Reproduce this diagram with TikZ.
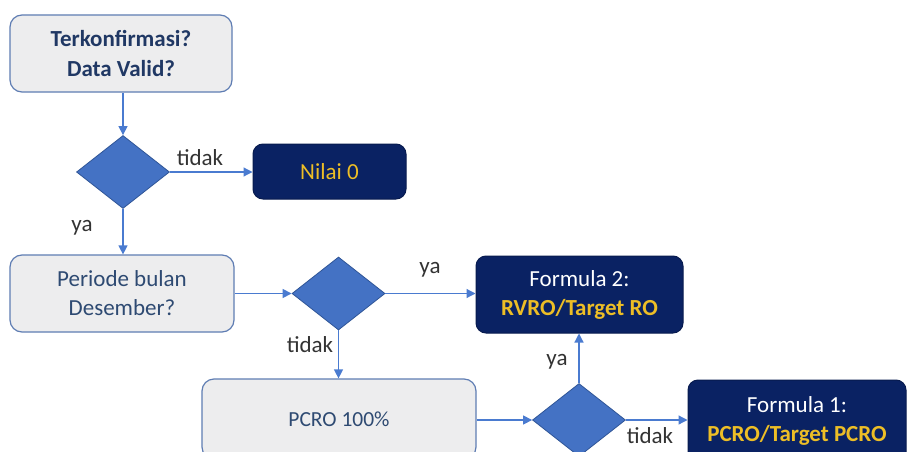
\documentclass[tikz,border=0pt]{standalone}
\usepackage{fontspec}
\setmainfont{Carlito}
\usetikzlibrary{shapes.geometric,arrows.meta}
\definecolor{boxgray}{HTML}{EDEDEE}
\definecolor{boxline}{HTML}{5F7DB3}
\definecolor{darktxt}{HTML}{203864}
\definecolor{slatetxt}{HTML}{2E4A72}
\definecolor{navy}{HTML}{0A2263}
\definecolor{gold}{HTML}{EDBE26}
\definecolor{dfill}{HTML}{4472C4}
\definecolor{dline}{HTML}{2F5597}
\definecolor{arr}{HTML}{4A7BD0}
\definecolor{lbl}{HTML}{333333}
\tikzset{
  graybox/.style={draw=boxline, line width=1.2pt, fill=boxgray, rounded corners=12pt,
    align=center, font=\fontsize{23}{29}\selectfont, inner sep=0pt},
  navybox/.style={draw=navy!80!black, line width=1pt, fill=navy, rounded corners=10pt,
    align=center, font=\fontsize{23}{29}\selectfont, inner sep=0pt},
  dia/.style={diamond, draw=dline, line width=0.8pt, fill=dfill, inner sep=0pt,
    minimum width=93pt, minimum height=73pt},
  conn/.style={draw=arr, line width=1.2pt, -{Triangle[length=9pt,width=9pt]}},
  lab/.style={text=lbl, font=\fontsize{23}{29}\selectfont, inner sep=0pt}
}
\begin{document}
\begin{tikzpicture}[x=1pt,y=-1pt]
\useasboundingbox (0,0) rectangle (910,452);
\clip (0,0) rectangle (910,452);
\fill[white] (0,0) rectangle (910,452);

\node[graybox, minimum width=222pt, minimum height=77pt, text=darktxt, font=\fontsize{23}{30}\bfseries] (b1) at (121,53.5) {Terkonfirmasi?\\Data Valid?};
\node[dia] (d1) at (123,172) {};
\node[navybox, minimum width=153pt, minimum height=55pt, text=gold] (n0) at (329.5,171.5) {Nilai 0};
\node[graybox, minimum width=224pt, minimum height=77pt, text=slatetxt] (b2) at (122,293.5) {Periode bulan\\Desember?};
\node[dia] (d2) at (338.5,293.5) {};
\node[navybox, minimum width=207pt, minimum height=77pt, text=white] (f2) at (579.5,294.5) {Formula 2:\\\textcolor{gold}{\bfseries RVRO/Target RO}};
\node[graybox, minimum width=274pt, minimum height=80pt, text=slatetxt, font=\fontsize{21.5}{26}\selectfont] (pc) at (339,419) {PCRO 100\%};
\node[dia] (d3) at (579,420) {};
\node[navybox, minimum width=218pt, minimum height=82pt, text=white] (f1) at (797,421) {Formula 1:\\\textcolor{gold}{\bfseries PCRO/Target PCRO}};

\draw[conn] (b1.south -| d1.north) -- (d1.north);
\draw[conn] (d1.east) -- (d1.east -| n0.west);
\draw[conn] (d1.south) -- (d1.south |- b2.north);
\draw[conn] (b2.east |- d2.west) -- (d2.west);
\draw[conn] (d2.east) -- (d2.east -| f2.west);
\draw[conn] (d2.south) -- (d2.south |- pc.north);
\draw[conn] (pc.east |- d3.west) -- (d3.west);
\draw[conn] (d3.north) -- (d3.north |- f2.south);
\draw[conn] (d3.east) -- (d3.east -| f1.west);

\node[lab] (l1) at (200,158) {tidak};
\node[lab] (l2) at (82,228) {ya};
\node[lab] (l3) at (430,270) {ya};
\node[lab] (l4) at (310,345) {tidak};
\node[lab] (l5) at (557,362) {ya};
\node[lab] (l6) at (650,436) {tidak};
\end{tikzpicture}
\end{document}
